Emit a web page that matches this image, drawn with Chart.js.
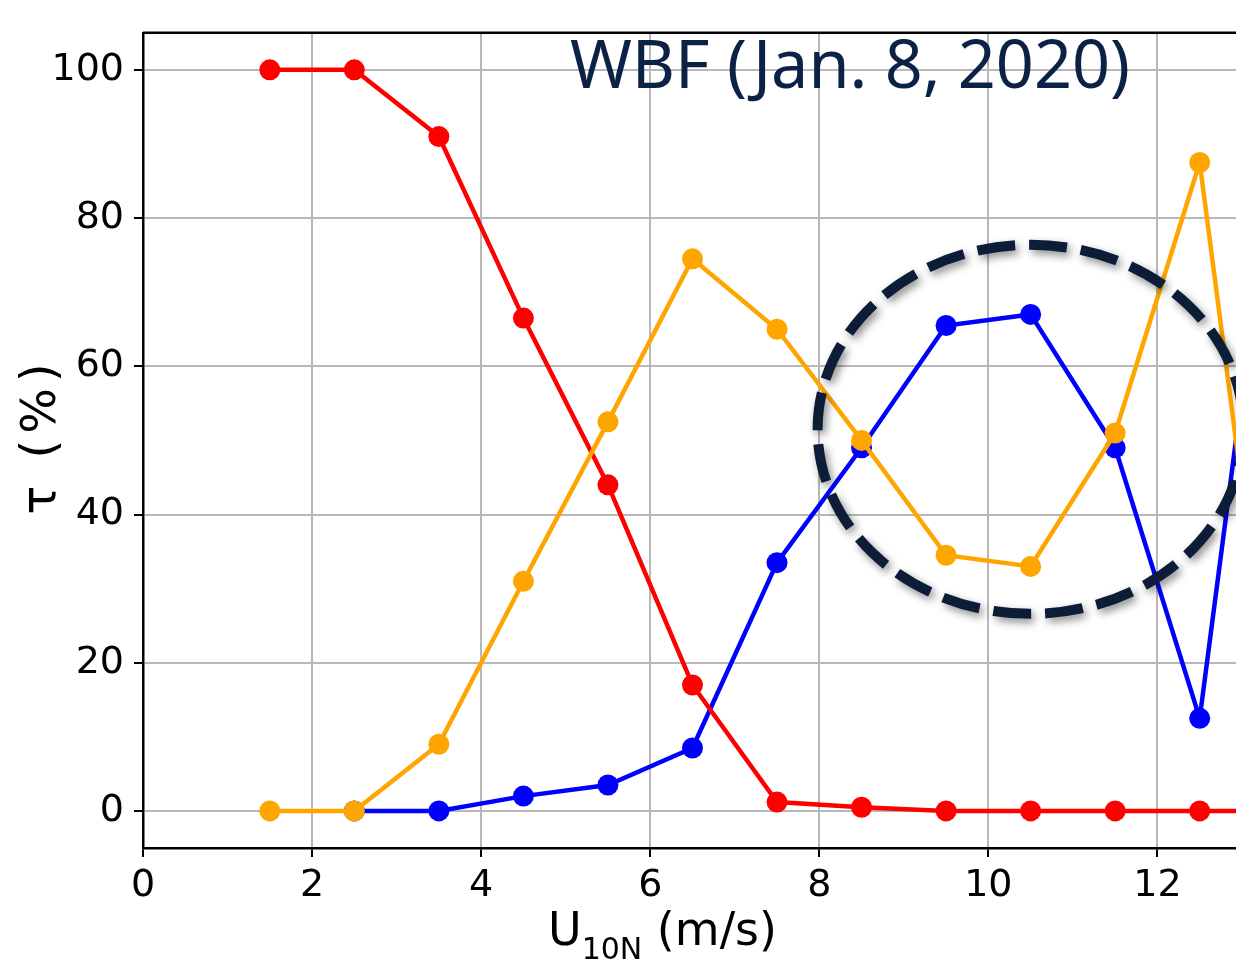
<!DOCTYPE html>
<html>
<head>
<meta charset="utf-8">
<script src="https://cdn.jsdelivr.net/npm/chart.js@4"></script>
<style>
    html, body { margin: 0; padding: 0; background: #fff; overflow: hidden; }
    #wrap { width: 1337px; height: 972px; }
</style>
</head>
<body>
<div id="wrap"><canvas id="tauChart"></canvas></div>
<script>
// wind speed bins (m/s)
const windSpeed = [1.5, 2.5, 3.5, 4.5, 5.5, 6.5, 7.5, 8.5, 9.5, 10.5, 11.5, 12.5, 13.5];
// tau (%) per class
const redValues    = [100, 100, 91, 66.5, 44, 17, 1.2, 0.5, 0, 0, 0, 0, 0];
const orangeValues = [0, 0, 9, 31, 52.5, 74.5, 65, 50, 34.5, 33, 51, 87.5, 0];
const blueValues   = [null, 0, 0, 2, 3.5, 8.5, 33.5, 49, 65.5, 67, 49, 12.5, 100];
const xTicks = [0, 2, 4, 6, 8, 10, 12];
const yTicks = [0, 20, 40, 60, 80, 100];
const titleText = 'WBF (Jan. 8, 2020)';

function toPoints(values) {
    return windSpeed.map((x, i) => ({ x: x, y: values[i] })).filter(p => p.y !== null);
}

function series(label, values, color, order) {
    return {
        label: label,
        data: toPoints(values),
        borderColor: color,
        backgroundColor: color,
        borderWidth: 4.5,
        pointRadius: 10.5,
        pointHoverRadius: 10.5,
        pointBorderWidth: 0,
        order: order
    };
}

// frame on top, axis titles, annotation text and dashed ellipse
const decorations = {
    id: 'decorations',
    afterDatasetsDraw(chart) {
        const ctx = chart.ctx;
        const area = chart.chartArea;
        const xs = chart.scales.x;
        const ys = chart.scales.y;
        ctx.save();

        // top spine
        ctx.strokeStyle = '#000';
        ctx.lineWidth = 2.5;
        ctx.beginPath();
        ctx.moveTo(area.left, area.top);
        ctx.lineTo(area.right, area.top);
        ctx.stroke();

        // annotation text
        ctx.fillStyle = '#0b2146';
        ctx.font = '68px "Noto Sans", sans-serif';
        ctx.textBaseline = 'alphabetic';
        ctx.textAlign = 'left';
        ctx.fillText(titleText, 570, 88, 560);

        // dashed ellipse with soft shadow
        const cx = xs.getPixelForValue(10.5);
        const cy = ys.getPixelForValue(51.5);
        const rx = xs.getPixelForValue(10.5 + 2.52) - cx;
        const ry = ys.getPixelForValue(51.5 - 24.9) - cy;
        ctx.strokeStyle = '#0d1d38';
        ctx.lineWidth = 10;
        ctx.setLineDash([38, 14]);
        ctx.shadowColor = 'rgba(0,0,0,0.45)';
        ctx.shadowBlur = 8;
        ctx.shadowOffsetX = 3;
        ctx.shadowOffsetY = 4;
        ctx.beginPath();
        ctx.ellipse(cx, cy, rx, ry, 0, 0, Math.PI * 2);
        ctx.stroke();
        ctx.restore();

        // axis titles
        ctx.save();
        ctx.fillStyle = '#000';
        ctx.textBaseline = 'alphabetic';
        ctx.textAlign = 'left';
        const main = 'U';
        const sub = '10N';
        const rest = ' (m/s)';
        ctx.font = '46px "DejaVu Sans", sans-serif';
        const wMain = ctx.measureText(main).width;
        const wRest = ctx.measureText(rest).width;
        ctx.font = '30px "DejaVu Sans", sans-serif';
        const wSub = ctx.measureText(sub).width;
        const x0 = 542 + (241 - (wMain + wSub + wRest)) / 2;
        const base = 945;
        ctx.font = '46px "DejaVu Sans", sans-serif';
        ctx.fillText(main, x0, base);
        ctx.font = '30px "DejaVu Sans", sans-serif';
        ctx.fillText(sub, x0 + wMain, base + 14);
        ctx.font = '46px "DejaVu Sans", sans-serif';
        ctx.fillText(rest, x0 + wMain + wSub, base);

        ctx.translate(55, 436);
        ctx.rotate(-Math.PI / 2);
        ctx.textAlign = 'center';
        ctx.font = '48px "DejaVu Sans", sans-serif';
        ctx.letterSpacing = '6px';
        ctx.fillText('\u03C4 (%)', 0, 0);
        ctx.restore();
    }
};

new Chart(document.getElementById('tauChart'), {
    type: 'line',
    data: {
        datasets: [
            series('red', redValues, '#ff0000', 2),
            series('orange', orangeValues, '#ffa500', 1),
            series('blue', blueValues, '#0000ff', 3)
        ]
    },
    options: {
        responsive: true,
        maintainAspectRatio: false,
        animation: false,
        layout: { padding: { top: 30, right: 0, bottom: 0, left: 0 } },
        plugins: {
            legend: { display: false },
            tooltip: { enabled: false }
        },
        scales: {
            x: {
                type: 'linear',
                min: 0,
                max: 14,
                afterFit: function(scale) { scale.height = 124; },
                afterBuildTicks: function(scale) {
                    scale.ticks = xTicks.map(v => ({ value: v }));
                },
                grid: {
                    color: '#b8b8b8',
                    lineWidth: 2,
                    tickColor: '#000',
                    tickLength: 9,
                    tickWidth: 2
                },
                border: { color: '#000', width: 2.5 },
                ticks: {
                    color: '#000',
                    padding: 6,
                    maxRotation: 0,
                    font: { family: 'DejaVu Sans', size: 38 }
                }
            },
            y: {
                min: -5,
                max: 105,
                afterFit: function(scale) { scale.width = 143; },
                afterBuildTicks: function(scale) {
                    scale.ticks = yTicks.map(v => ({ value: v }));
                },
                grid: {
                    color: '#b8b8b8',
                    lineWidth: 2,
                    tickColor: '#000',
                    tickLength: 9,
                    tickWidth: 2
                },
                border: { color: '#000', width: 2.5 },
                ticks: {
                    color: '#000',
                    padding: 10,
                    font: { family: 'DejaVu Sans', size: 38 }
                }
            }
        }
    },
    plugins: [decorations]
});
</script>
</body>
</html>
